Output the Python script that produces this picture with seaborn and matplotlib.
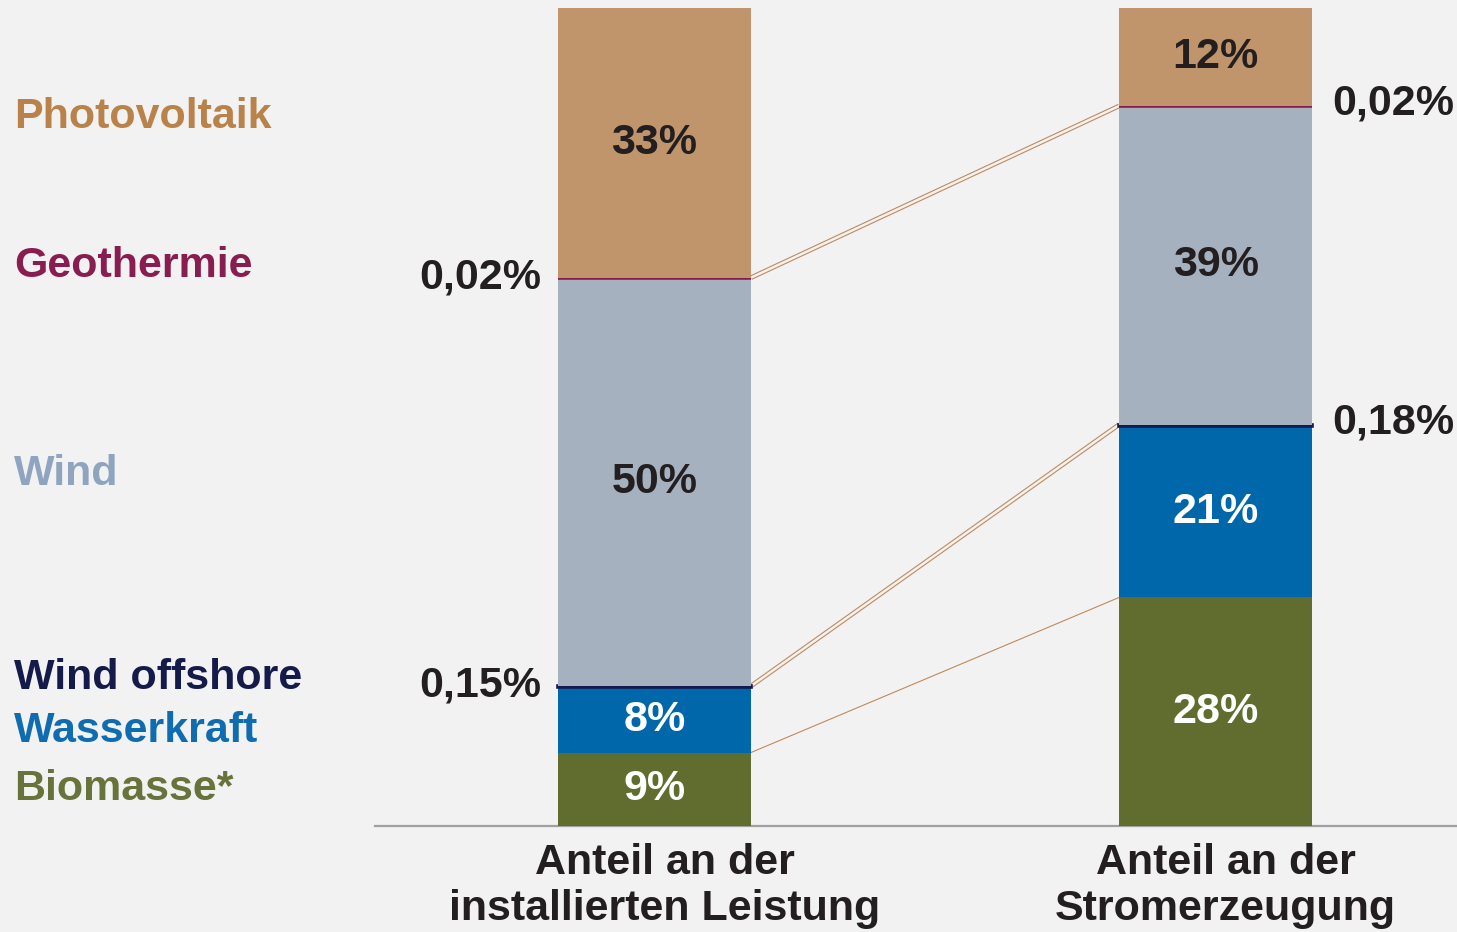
import numpy as np
import pandas as pd
import seaborn as sns
import matplotlib.pyplot as plt
from matplotlib.transforms import ScaledTranslation

# data
bars = ["Anteil an der\ninstallierten Leistung", "Anteil an der\nStromerzeugung"]
sources = ["Biomasse*", "Wasserkraft", "Wind offshore", "Wind", "Geothermie", "Photovoltaik"]
leistung = [9, 8, 0.15, 50, 0.02, 33]
erzeugung = [28, 21, 0.18, 39, 0.02, 12]
label_leistung = ["9%", "8%", "0,15%", "50%", "0,02%", "33%"]
label_erzeugung = ["28%", "21%", "0,18%", "39%", "0,02%", "12%"]

bar_colors = ["#616d2f", "#0067aa", "#131a4f", "#a6b1bf", "#8b1a4f", "#c1956b"]
text_colors = ["#67733a", "#0f6cb0", "#141a4a", "#8fa5bf", "#8a1d50", "#b9824a"]
inner_text = ["white", "white", None, "#231f20", None, "#231f20"]
bg = "#f2f2f2"
dark = "#231f20"
link = "#c08a5c"
fs = 31

df = pd.DataFrame({
    "bar": np.repeat(bars, len(sources)),
    "source": sources * 2,
    "value": leistung + erzeugung,
})

sns.set_theme(style="white")
plt.rcParams["font.family"] = ["Liberation Sans", "DejaVu Sans"]
plt.rcParams["font.weight"] = "bold"

fig = plt.figure(figsize=(14.57, 9.32), dpi=100, facecolor=bg)
ax = fig.add_axes([375 / 1457, 106 / 932, 1082 / 1457, 818 / 932])
ax.set_facecolor(bg)

w = 0.344
bottoms = np.zeros(2)
for i, src in enumerate(sources):
    sub = df[df["source"] == src]
    vals = sub["value"].to_numpy()
    thin = vals.max() < 1
    sns.barplot(data=sub, x="bar", y="value", order=bars, color=bar_colors[i],
                width=w, bottom=bottoms, errorbar=None, ax=ax, saturation=1,
                edgecolor=bar_colors[i] if thin else "none",
                linewidth=2.6 if thin else 0, zorder=3)
    labels = [label_leistung[i], label_erzeugung[i]]
    for j in range(2):
        if thin:
            if j == 0:
                ax.text(j - w / 2 - 0.03, bottoms[j] + vals[j], labels[j],
                        ha="right", va="center", fontsize=fs, color=dark, fontweight="bold")
            else:
                ax.text(j + w / 2 + 0.035, bottoms[j] + vals[j] + 0.3, labels[j],
                        ha="left", va="center", fontsize=fs, color=dark, fontweight="bold")
        else:
            ax.text(j, bottoms[j] + vals[j] / 2, labels[j], ha="center", va="center",
                    fontsize=fs, color=inner_text[i], fontweight="bold", zorder=4)
    bottoms = bottoms + vals

# connector lines between the bars
cum1 = np.cumsum(leistung)
cum2 = np.cumsum(erzeugung)
x0, x1 = w / 2, 1 - w / 2
ax.plot([x0, x1], [cum1[0], cum2[0]], color=link, lw=0.8, zorder=1)
for k in [2, 4]:
    ax.plot([x0, x1], [cum1[k], cum2[k]], color=link, lw=3.4, zorder=1,
            solid_capstyle="butt")
    ax.plot([x0, x1], [cum1[k], cum2[k]], color=bg, lw=1.8, zorder=2,
            solid_capstyle="butt")

ax.set_xlim(-0.498, 1.43)
ax.set_ylim(0, 100.2)
ax.set_xlabel("")
ax.set_ylabel("")
ax.set_yticks([])
for s in ["top", "right", "left"]:
    ax.spines[s].set_visible(False)
ax.spines["bottom"].set_color("#a0a0a0")
ax.spines["bottom"].set_linewidth(1.6)
ax.tick_params(axis="x", length=0, pad=12)
shift = ScaledTranslation(10 / 100, 0, fig.dpi_scale_trans)
for t in ax.get_xticklabels():
    t.set_fontsize(fs)
    t.set_fontweight("bold")
    t.set_color(dark)
    t.set_linespacing(1.2)
    t.set_transform(t.get_transform() + shift)

# legend labels on the left
legend_y = [789, 731, 678, 474, 266, 117]
for name, col, yp in zip(sources, text_colors, legend_y):
    fig.text(14 / 1457, 1 - yp / 932, name, ha="left", va="center",
             fontsize=fs, fontweight="bold", color=col)

fig.savefig("out.png", dpi=100, facecolor=bg)
